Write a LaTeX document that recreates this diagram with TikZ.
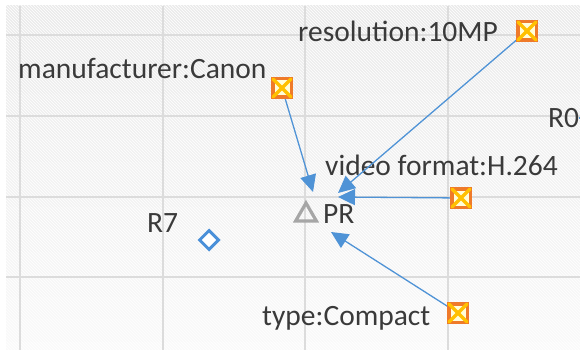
\documentclass[tikz,border=0pt]{standalone}
\usepackage{fontspec}
\setmainfont{Carlito}
\usetikzlibrary{arrows.meta,patterns,shapes.geometric,calc}
\definecolor{txt}{HTML}{3A3A3A}
\definecolor{connc}{HTML}{4F93D6}
\definecolor{gridc}{HTML}{DCDCDC}
\definecolor{iconor}{HTML}{EF7A2A}
\definecolor{iconye}{HTML}{FFC000}
\definecolor{diac}{HTML}{4A90D9}
\definecolor{tric}{HTML}{A6A6A6}
\begin{document}
\begin{tikzpicture}[x=1pt,y=-1pt,
  lbl/.style={text=txt, font=\fontsize{29.5}{34}\selectfont, inner sep=0pt, anchor=base west},
  xline/.style={draw=iconye, line width=3.5pt, line cap=round},
  icon/.style={minimum size=18.5pt, inner sep=0pt, draw=iconor, line width=3.5pt, fill=white!85!yellow,
    append after command={
      ($(\tikzlastnode.north west)+(2,2)$) edge[xline] ($(\tikzlastnode.south east)+(-2,-2)$)
      ($(\tikzlastnode.north east)+(-2,2)$) edge[xline] ($(\tikzlastnode.south west)+(2,-2)$)}},
  dia/.style={diamond, draw=diac, line width=3pt, fill=white, minimum size=20pt, inner sep=0pt},
  tri/.style={regular polygon, regular polygon sides=3, draw=tric, line width=3.2pt, minimum size=24pt, inner sep=0pt},
  arr/.style={draw=connc, line width=1.3pt, -{Triangle[length=17pt,width=16pt]}},
  gridl/.style={draw=gridc, line width=2pt}]
\useasboundingbox (0,0) rectangle (580,350);
% background
\shade[top color=black!8, bottom color=black!2] (6,6) rectangle (580,350);
\fill[pattern=north west lines, pattern color=white] (6,6) rectangle (580,350);
% grid
\foreach \gx in {20,163,305,448} \draw[gridl] (\gx,6) -- (\gx,350);
\foreach \gy in {35,116,197,277} \draw[gridl] (6,\gy) -- (580,\gy);
% labels
\node[lbl] (lRes) at (298,42) {resolution:10MP};
\node[lbl] (lMan) at (18,79) {manufacturer:Canon};
\node[lbl] (lVid) at (325,175) {video format:H.264};
\node[lbl] (lPR) at (323,223) {PR};
\node[lbl] (lR7) at (147,232) {R7};
\node[lbl] (lType) at (262,325) {type:Compact};
\node[lbl] (lR0) at (548,127) {R0};
% arrow targets near PR
\node[tri] (pr) at (306,215) {};
\coordinate (tMan) at ($(pr)+(7,-23)$);
\coordinate (tRes) at ($(pr)+(32,-22)$);
\coordinate (tVid) at ($(pr)+(32,-18)$);
\coordinate (tType) at ($(pr)+(25,17)$);
\coordinate (r0out) at (581,118);
\coordinate (pRes) at (527,31);
\coordinate (pMan) at (282,88);
\coordinate (pVid) at (461,198);
\coordinate (pType) at (458,313);
% connectors
\draw[arr] (pMan) -- (tMan);
\draw[arr] (pRes) -- (tRes);
\draw[arr] (pVid) -- (tVid);
\draw[arr] (pType) -- (tType);
\draw[draw=connc, line width=1.3pt] (lR0.east |- r0out) -- (r0out);
% shapes
\node[icon] (iRes) at (pRes) {};
\node[icon] (iMan) at (pMan) {};
\node[icon] (iVid) at (pVid) {};
\node[icon] (iType) at (pType) {};
\node[dia] (dR7) at (209,240) {};
\end{tikzpicture}
\end{document}
